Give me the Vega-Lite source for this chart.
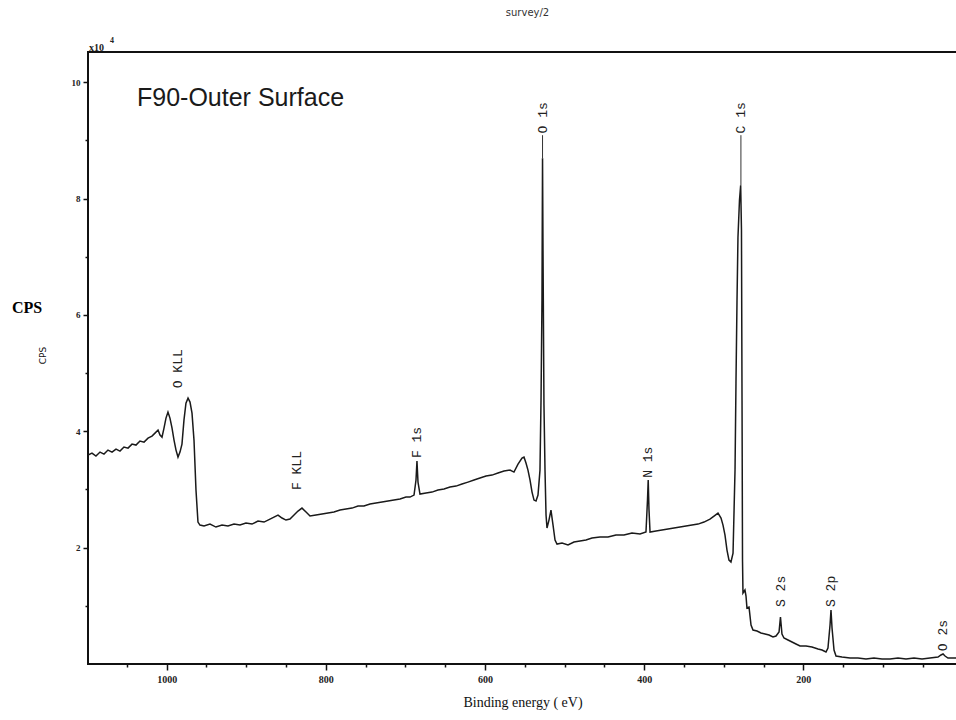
{
  "$schema": "https://vega.github.io/schema/vega-lite/v6.json",
  "width": 869,
  "height": 612,
  "autosize": "none",
  "padding": {"left": 88, "top": 52, "right": 0, "bottom": 56},
  "background": "white",
  "config": {
    "view": {"stroke": "#111111", "strokeWidth": 2},
    "axis": {"domain": false, "grid": false, "tickColor": "#111111", "labelColor": "#222222", "titleColor": "#111111"}
  },
  "title": {"text": "survey/2", "fontSize": 10, "font": "DejaVu Sans", "fontWeight": "normal", "color": "#333333", "offset": 19, "dx": 5, "anchor": "middle"},
  "encoding": {
    "x": {
      "field": "E", "type": "quantitative",
      "scale": {"domain": [6.85, 1098.9], "reverse": true, "nice": false, "zero": false},
      "axis": {
        "values": [50, 100, 150, 200, 250, 300, 350, 400, 450, 500, 550, 600, 650, 700, 750, 800, 850, 900, 950, 1000, 1050],
        "labelExpr": "datum.value % 200 === 0 ? datum.value : ''",
        "tickSize": {"condition": {"test": "datum.value % 200 === 0", "value": 6}, "value": 3},
        "tickWidth": 1.5,
        "labelFont": "Liberation Serif", "labelFontSize": 10, "labelFontWeight": "bold", "labelPadding": 4,
        "title": "Binding energy ( eV)", "titleFont": "Liberation Serif", "titleFontSize": 14, "titleFontWeight": "normal", "titlePadding": 11
      }
    },
    "y": {
      "field": "cps", "type": "quantitative",
      "scale": {"domain": [0, 10.52], "nice": false, "zero": false},
      "axis": {
        "values": [1, 2, 3, 4, 5, 6, 7, 8, 9, 10],
        "labelExpr": "datum.value % 2 === 0 ? datum.value : ''",
        "tickSize": {"condition": {"test": "datum.value % 2 === 0", "value": 5}, "value": 3},
        "tickWidth": 1.5,
        "labelFont": "Liberation Serif", "labelFontSize": 9, "labelFontWeight": "bold", "labelPadding": 3,
        "title": "CPS", "titleFont": "DejaVu Sans", "titleFontSize": 9, "titleFontWeight": "normal",
        "titleX": -41, "titleY": 303, "titleAngle": 270
      }
    }
  },
  "layer": [
    {
      "data": {"values": [
        {"E":1098.9,"cps":3.591},{"E":1093.9,"cps":3.625},{"E":1088.9,"cps":3.574},{"E":1083.8,"cps":3.643},
        {"E":1078.8,"cps":3.608},{"E":1073.8,"cps":3.677},{"E":1068.7,"cps":3.643},{"E":1063.7,"cps":3.694},
        {"E":1058.7,"cps":3.660},{"E":1053.7,"cps":3.729},{"E":1048.6,"cps":3.711},{"E":1043.6,"cps":3.780},
        {"E":1038.6,"cps":3.763},{"E":1033.6,"cps":3.832},{"E":1028.5,"cps":3.814},{"E":1023.5,"cps":3.883},
        {"E":1018.5,"cps":3.918},{"E":1014.7,"cps":3.969},{"E":1010.9,"cps":4.021},{"E":1008.4,"cps":3.935},
        {"E":1005.9,"cps":3.900},{"E":1003.4,"cps":4.055},{"E":1000.9,"cps":4.227},{"E":998.4,"cps":4.330},
        {"E":995.9,"cps":4.227},{"E":993.3,"cps":4.055},{"E":990.8,"cps":3.849},{"E":988.3,"cps":3.677},
        {"E":985.8,"cps":3.557},{"E":983.3,"cps":3.643},{"E":980.8,"cps":3.780},{"E":978.3,"cps":4.192},
        {"E":975.8,"cps":4.485},{"E":973.2,"cps":4.570},{"E":970.7,"cps":4.502},{"E":968.2,"cps":4.313},
        {"E":965.7,"cps":3.849},{"E":963.2,"cps":2.990},{"E":960.7,"cps":2.440},{"E":958.2,"cps":2.388},
        {"E":953.1,"cps":2.371},{"E":945.6,"cps":2.405},{"E":938.1,"cps":2.354},{"E":930.5,"cps":2.388},
        {"E":923.0,"cps":2.371},{"E":915.4,"cps":2.405},{"E":907.9,"cps":2.388},{"E":900.4,"cps":2.423},
        {"E":892.8,"cps":2.405},{"E":885.3,"cps":2.457},{"E":877.7,"cps":2.440},{"E":870.2,"cps":2.491},
        {"E":865.2,"cps":2.526},{"E":860.1,"cps":2.560},{"E":855.1,"cps":2.509},{"E":850.1,"cps":2.474},
        {"E":845.1,"cps":2.491},{"E":840.0,"cps":2.560},{"E":835.0,"cps":2.629},{"E":830.0,"cps":2.680},
        {"E":824.9,"cps":2.612},{"E":819.9,"cps":2.543},{"E":812.4,"cps":2.560},{"E":804.8,"cps":2.577},
        {"E":797.3,"cps":2.595},{"E":789.8,"cps":2.612},{"E":782.2,"cps":2.646},{"E":774.7,"cps":2.663},
        {"E":767.1,"cps":2.680},{"E":759.6,"cps":2.715},{"E":752.1,"cps":2.715},{"E":744.5,"cps":2.749},
        {"E":737.0,"cps":2.766},{"E":729.4,"cps":2.784},{"E":721.9,"cps":2.801},{"E":714.4,"cps":2.818},
        {"E":706.8,"cps":2.835},{"E":699.3,"cps":2.869},{"E":694.3,"cps":2.869},{"E":689.2,"cps":2.904},
        {"E":686.7,"cps":3.162},{"E":685.5,"cps":3.488},{"E":684.2,"cps":3.127},{"E":681.7,"cps":2.921},
        {"E":674.1,"cps":2.938},{"E":666.6,"cps":2.955},{"E":659.1,"cps":2.990},{"E":651.5,"cps":3.007},
        {"E":644.0,"cps":3.041},{"E":636.4,"cps":3.058},{"E":628.9,"cps":3.093},{"E":621.4,"cps":3.127},
        {"E":613.8,"cps":3.162},{"E":606.3,"cps":3.196},{"E":598.7,"cps":3.230},{"E":591.2,"cps":3.247},
        {"E":583.7,"cps":3.282},{"E":576.1,"cps":3.316},{"E":568.6,"cps":3.333},{"E":563.6,"cps":3.299},
        {"E":558.5,"cps":3.436},{"E":553.5,"cps":3.540},{"E":551.0,"cps":3.557},{"E":548.5,"cps":3.454},
        {"E":546.0,"cps":3.333},{"E":543.4,"cps":3.162},{"E":540.9,"cps":2.955},{"E":538.4,"cps":2.818},
        {"E":535.9,"cps":2.801},{"E":533.4,"cps":2.904},{"E":530.9,"cps":3.333},{"E":529.6,"cps":4.536},
        {"E":528.4,"cps":6.254},{"E":527.7,"cps":8.694},{"E":527.1,"cps":7.113},{"E":525.9,"cps":4.450},
        {"E":524.6,"cps":3.333},{"E":523.3,"cps":2.560},{"E":522.1,"cps":2.337},{"E":519.6,"cps":2.474},
        {"E":517.1,"cps":2.646},{"E":514.5,"cps":2.388},{"E":512.0,"cps":2.131},{"E":509.5,"cps":2.062},
        {"E":503.2,"cps":2.079},{"E":495.7,"cps":2.045},{"E":488.2,"cps":2.096},{"E":480.6,"cps":2.113},
        {"E":473.1,"cps":2.131},{"E":465.5,"cps":2.165},{"E":455.5,"cps":2.182},{"E":445.4,"cps":2.182},
        {"E":435.4,"cps":2.216},{"E":425.3,"cps":2.216},{"E":415.3,"cps":2.251},{"E":405.2,"cps":2.234},
        {"E":397.7,"cps":2.268},{"E":395.8,"cps":2.818},{"E":394.9,"cps":3.162},{"E":393.9,"cps":2.646},
        {"E":392.6,"cps":2.268},{"E":385.1,"cps":2.285},{"E":377.6,"cps":2.302},{"E":370.0,"cps":2.320},
        {"E":362.5,"cps":2.337},{"E":354.9,"cps":2.354},{"E":347.4,"cps":2.371},{"E":339.9,"cps":2.388},
        {"E":332.3,"cps":2.405},{"E":324.8,"cps":2.440},{"E":317.3,"cps":2.491},{"E":312.2,"cps":2.543},
        {"E":307.2,"cps":2.595},{"E":303.4,"cps":2.509},{"E":300.9,"cps":2.388},{"E":298.4,"cps":2.216},
        {"E":295.9,"cps":1.959},{"E":293.4,"cps":1.787},{"E":290.9,"cps":1.753},{"E":288.3,"cps":1.907},
        {"E":285.8,"cps":3.333},{"E":284.6,"cps":4.828},{"E":283.3,"cps":6.254},{"E":282.1,"cps":7.337},
        {"E":280.2,"cps":7.973},{"E":278.7,"cps":8.230},{"E":277.7,"cps":7.457},{"E":277.0,"cps":4.536},
        {"E":276.4,"cps":1.787},{"E":275.8,"cps":1.220},{"E":273.3,"cps":1.271},{"E":272.0,"cps":1.168},
        {"E":270.8,"cps":0.962},{"E":268.2,"cps":0.979},{"E":265.7,"cps":0.670},{"E":263.2,"cps":0.584},
        {"E":258.2,"cps":0.567},{"E":253.2,"cps":0.533},{"E":248.1,"cps":0.515},{"E":243.1,"cps":0.498},
        {"E":238.1,"cps":0.464},{"E":234.3,"cps":0.481},{"E":230.5,"cps":0.550},{"E":228.7,"cps":0.808},
        {"E":226.8,"cps":0.515},{"E":224.3,"cps":0.447},{"E":219.2,"cps":0.412},{"E":214.2,"cps":0.378},
        {"E":209.2,"cps":0.344},{"E":204.1,"cps":0.309},{"E":196.6,"cps":0.309},{"E":189.1,"cps":0.292},
        {"E":181.5,"cps":0.258},{"E":176.5,"cps":0.241},{"E":171.5,"cps":0.206},{"E":169.0,"cps":0.275},
        {"E":166.4,"cps":0.670},{"E":165.2,"cps":0.928},{"E":163.9,"cps":0.619},{"E":161.4,"cps":0.241},
        {"E":158.9,"cps":0.137},{"E":151.4,"cps":0.120},{"E":141.3,"cps":0.103},{"E":131.3,"cps":0.103},
        {"E":121.2,"cps":0.086},{"E":111.2,"cps":0.103},{"E":101.1,"cps":0.086},{"E":91.0,"cps":0.086},
        {"E":81.0,"cps":0.103},{"E":70.9,"cps":0.086},{"E":60.9,"cps":0.103},{"E":50.8,"cps":0.086},
        {"E":40.8,"cps":0.103},{"E":30.7,"cps":0.120},{"E":27.0,"cps":0.155},{"E":24.4,"cps":0.172},
        {"E":21.9,"cps":0.137},{"E":18.2,"cps":0.103},{"E":13.1,"cps":0.103},{"E":8.1,"cps":0.103}
      ]},
      "mark": {"type": "line", "color": "#1a1a1a", "strokeWidth": 1.5, "clip": true}
    },
    {
      "data": {"values": [
        {"label": "O 1s", "E": 527.7, "cps": 9.09, "peak": 8.69},
        {"label": "C 1s", "E": 278.4, "cps": 9.09, "peak": 8.23}
      ]},
      "mark": {"type": "rule", "color": "#333333", "strokeWidth": 1},
      "encoding": {"y2": {"field": "peak"}}
    },
    {
      "data": {"values": [
        {"label": "O KLL", "E": 985.8, "cps": 4.74},
        {"label": "F KLL", "E": 836.3, "cps": 2.99},
        {"label": "F 1s", "E": 685.5, "cps": 3.54},
        {"label": "O 1s", "E": 527.7, "cps": 9.12},
        {"label": "N 1s", "E": 395.2, "cps": 3.20},
        {"label": "C 1s", "E": 278.3, "cps": 9.12},
        {"label": "S 2s", "E": 228.0, "cps": 0.98},
        {"label": "S 2p", "E": 165.2, "cps": 0.98},
        {"label": "O 2s", "E": 24.4, "cps": 0.22}
      ]},
      "mark": {"type": "text", "angle": 270, "align": "left", "baseline": "middle", "font": "Liberation Mono", "fontSize": 13, "color": "#222222"},
      "encoding": {"text": {"field": "label"}}
    },
    {
      "data": {"values": [{"note": "F90-Outer Surface", "E": 1037.3, "cps": 9.59}]},
      "mark": {"type": "text", "align": "left", "baseline": "alphabetic", "font": "Liberation Sans", "fontSize": 25, "color": "#1a1a1a"},
      "encoding": {"text": {"field": "note"}}
    },
    {
      "data": {"values": [{"note": "CPS", "E": 1175.5, "cps": 6.12}]},
      "mark": {"type": "text", "align": "center", "baseline": "middle", "font": "Liberation Serif", "fontSize": 16, "fontWeight": "bold", "color": "#000000"},
      "encoding": {"text": {"field": "note"}}
    },
    {
      "data": {"values": [{"note": "x10", "E": 1097.7, "cps": 10.53}]},
      "mark": {"type": "text", "align": "left", "baseline": "alphabetic", "font": "Liberation Serif", "fontSize": 10, "fontWeight": "bold", "color": "#222222"},
      "encoding": {"text": {"field": "note"}}
    },
    {
      "data": {"values": [{"note": "4", "E": 1071.2, "cps": 10.67}]},
      "mark": {"type": "text", "align": "left", "baseline": "alphabetic", "font": "Liberation Serif", "fontSize": 8, "fontWeight": "bold", "color": "#222222"},
      "encoding": {"text": {"field": "note"}}
    }
  ]
}
